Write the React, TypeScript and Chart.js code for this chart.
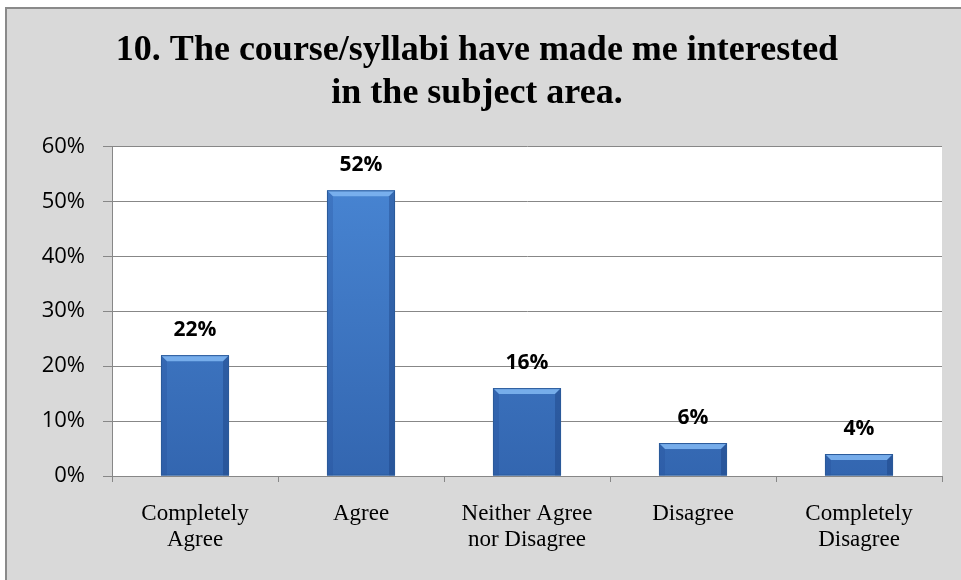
import { useEffect, useRef } from "react";
import { Chart, registerables } from "chart.js";

Chart.register(...registerables);

const categories: string[][] = [
  ["Completely", "Agree"],
  ["Agree"],
  ["Neither Agree", "nor Disagree"],
  ["Disagree"],
  ["Completely", "Disagree"],
];
const values: number[] = [22, 52, 16, 6, 4];
const yMin = 0;
const yMax = 60;
const yStep = 10;
const titleLines: string[] = [
  "10. The course/syllabi have made me interested",
  "in the subject area.",
];

const framePlugin = {
  id: "frame",
  beforeDraw(chart: any) {
    const { ctx, width, height, chartArea } = chart;
    ctx.save();
    ctx.fillStyle = "#ffffff";
    ctx.fillRect(0, 0, width, height);
    ctx.fillStyle = "#d9d9d9";
    ctx.fillRect(5, 7, width - 5, height - 7);
    ctx.strokeStyle = "#8a8a8a";
    ctx.lineWidth = 2;
    ctx.strokeRect(6, 8, width + 10, height + 10);
    ctx.fillStyle = "#ffffff";
    ctx.fillRect(chartArea.left, chartArea.top, chartArea.right - chartArea.left, chartArea.bottom - chartArea.top);
    ctx.restore();
  },
};

const barStylePlugin = {
  id: "barStyle",
  afterDatasetsDraw(chart: any) {
    const { ctx } = chart;
    const meta = chart.getDatasetMeta(0);
    ctx.save();
    meta.data.forEach((bar: any) => {
      const w = bar.width;
      const l = bar.x - w / 2;
      const r = bar.x + w / 2;
      const t = bar.y;
      const b = bar.base;
      const bev = Math.min(6, (b - t) / 2);
      // top bevel
      ctx.beginPath();
      ctx.moveTo(l, t);
      ctx.lineTo(r, t);
      ctx.lineTo(r - bev, t + bev);
      ctx.lineTo(l + bev, t + bev);
      ctx.closePath();
      ctx.fillStyle = "rgba(125,180,240,0.9)";
      ctx.fill();
      // left edge
      ctx.beginPath();
      ctx.moveTo(l, t);
      ctx.lineTo(l + bev, t + bev);
      ctx.lineTo(l + bev, b);
      ctx.lineTo(l, b);
      ctx.closePath();
      ctx.fillStyle = "rgba(30,70,140,0.22)";
      ctx.fill();
      // right edge
      ctx.beginPath();
      ctx.moveTo(r, t);
      ctx.lineTo(r - bev, t + bev);
      ctx.lineTo(r - bev, b);
      ctx.lineTo(r, b);
      ctx.closePath();
      ctx.fillStyle = "rgba(20,50,110,0.32)";
      ctx.fill();
      ctx.strokeStyle = "#2b5a9a";
      ctx.lineWidth = 1;
      ctx.strokeRect(l + 0.5, t + 0.5, w - 1, b - t - 1);
    });
    ctx.restore();
  },
};

const labelPlugin = {
  id: "valueLabels",
  afterDatasetsDraw(chart: any) {
    const { ctx } = chart;
    const meta = chart.getDatasetMeta(0);
    ctx.save();
    ctx.font = "bold 21px 'Open Sans'";
    ctx.fillStyle = "#000000";
    ctx.textAlign = "center";
    ctx.textBaseline = "middle";
    meta.data.forEach((bar: any, i: number) => {
      ctx.fillText(values[i] + "%", bar.x, bar.y - 25);
    });
    ctx.restore();
  },
};

export default function App() {
  const ref = useRef<HTMLCanvasElement | null>(null);
  useEffect(() => {
    document.body.style.margin = "0";
    const canvas = ref.current!;
    const chart = new Chart(canvas, {
      type: "bar",
      data: {
        labels: categories,
        datasets: [
          {
            data: values,
            backgroundColor: (c: any) => {
              const area = c.chart.chartArea;
              if (!area) return "#3a72bf";
              const g = c.chart.ctx.createLinearGradient(0, area.top, 0, area.bottom);
              g.addColorStop(0, "#4a88d6");
              g.addColorStop(1, "#3366b0");
              return g;
            },
            borderWidth: 0,
            barPercentage: 0.41,
            categoryPercentage: 1,
          },
        ],
      },
      options: {
        animation: false,
        responsive: false,
        maintainAspectRatio: false,
        layout: { padding: { left: 12, right: 19, top: 8, bottom: 14 } },
        plugins: {
          legend: { display: false },
          tooltip: { enabled: false },
          title: {
            display: true,
            text: titleLines,
            color: "#000000",
            font: { family: "'Liberation Serif'", size: 36, weight: "bold", lineHeight: 1.2 },
            padding: { top: 21, bottom: 31 },
          },
        },
        scales: {
          x: {
            grid: {
              display: true,
              drawOnChartArea: false,
              drawTicks: true,
              tickLength: 6,
              color: "#878787",
              offset: true,
            },
            border: { display: true, color: "#878787", width: 1 },
            ticks: {
              color: "#000000",
              padding: 19,
              maxRotation: 0,
              autoSkip: false,
              font: { family: "'Liberation Serif'", size: 23, lineHeight: 1.13 },
            },
            afterFit: (s: any) => {
              s.height = 90;
            },
          },
          y: {
            min: yMin,
            max: yMax,
            ticks: {
              stepSize: yStep,
              color: "#000000",
              padding: 18,
              font: { family: "'Open Sans'", size: 22 },
              callback: (v: any) => v + "%",
            },
            grid: { color: "#878787", tickLength: 9, lineWidth: 1 },
            border: { display: true, color: "#878787", width: 1 },
            afterFit: (s: any) => {
              s.width = 100;
            },
          },
        },
      },
      plugins: [framePlugin, barStylePlugin, labelPlugin],
    });
    return () => chart.destroy();
  }, []);
  return (
    <div style={{ width: 961, height: 580 }}>
      <canvas ref={ref} width={961} height={580} style={{ display: "block", width: 961, height: 580 }} />
    </div>
  );
}
